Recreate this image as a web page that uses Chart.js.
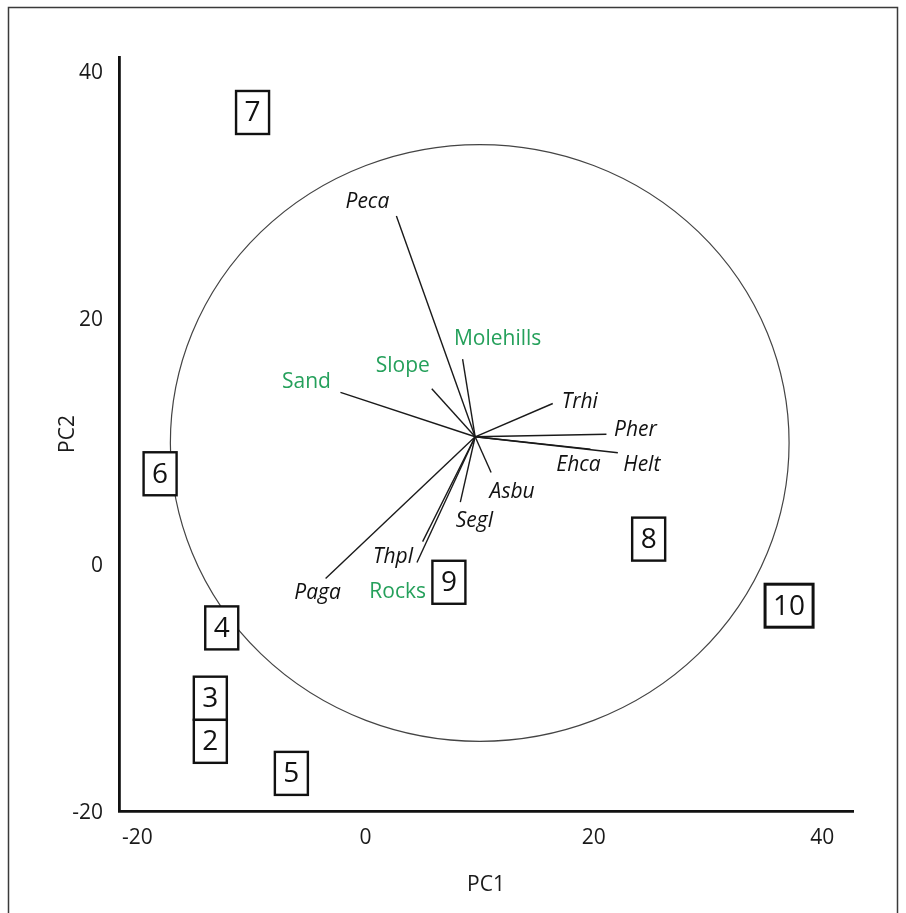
<!DOCTYPE html>
<html>
<head>
<meta charset="utf-8">
<script src="https://cdn.jsdelivr.net/npm/chart.js@4.4.1/dist/chart.umd.min.js"></script>
<style>
  html, body { margin: 0; padding: 0; background: #fff; }
  #wrap { width: 906px; height: 913px; position: relative; }
</style>
</head>
<body>
<div id="wrap"><canvas id="c" width="906" height="913"></canvas></div>
<script>
// ---- Site scores (quadrats) on PC1 / PC2 ----
const siteLabels = ['2', '3', '4', '5', '6', '7', '8', '9', '10'];
const sitePC1 = [-13.6, -13.6, -12.6, -6.5, -18.0, -9.9, 24.8, 7.3, 37.1];
const sitePC2 = [-14.2, -10.7, -5.0, -16.8, 7.5, 36.8, 2.2, -1.3, -3.2];

// ---- Common origin of all loading vectors ----
const vectorOriginPC1 = 9.6;
const vectorOriginPC2 = 10.5;

// ---- Species loading vectors (tips) ----
const speciesNames = ['Peca', 'Trhi', 'Pher', 'Ehca', 'Helt', 'Asbu', 'Segl', 'Thpl', 'Paga'];
const speciesPC1 = [2.7, 16.4, 21.1, 19.7, 22.1, 11.0, 8.3, 4.5, -3.5];
const speciesPC2 = [28.4, 13.2, 10.7, 9.5, 9.2, 7.6, 5.2, 0.3, -1.0];

// ---- Environmental loading vectors (tips) ----
const envNames = ['Molehills', 'Slope', 'Sand', 'Rocks'];
const envPC1 = [8.5, 5.8, -2.2, 5.0];
const envPC2 = [16.8, 14.4, 14.1, 2.0];

// ---- Correlation circle ----
const circleCentrePC1 = 10.0;
const circleCentrePC2 = 10.0;
const circleRadiusPC1 = 27.1;
const circleRadiusPC2 = 24.2;

// ---- Axis ticks ----
const xTicks = [-20, 0, 20, 40];
const yTicks = [-20, 0, 20, 40];

// ---- Styling / layout ----
const FONT = '"Open Sans", Lato, "Liberation Sans", sans-serif';
const GREEN = '#25a05b';
const INK = '#111';
// pixel offsets of each vector label from its tip
const labelOffsets = {
  Peca: [-29, -14], Trhi: [27, -1], Pher: [29, -4], Ehca: [-12, 16], Helt: [24, 12],
  Asbu: [21, 19], Segl: [14, 19], Thpl: [-24, -6], Paga: [-8, 14],
  Molehills: [35, -20], Slope: [-29, -23], Sand: [-34, -10], Rocks: [-25, 50]
};
const siteBoxWidthFor = { '10': 3 };

function vectorDataset(name, px, py, colour) {
  return {
    label: name,
    type: 'line',
    data: [{ x: vectorOriginPC1, y: vectorOriginPC2 }, { x: px, y: py }],
    borderColor: '#1a1a1a',
    borderWidth: 1.4,
    pointRadius: 0,
    fill: false,
    tension: 0,
    vectorLabel: name,
    vectorLabelColour: colour,
    vectorLabelItalic: colour === INK
  };
}

const datasets = [];
speciesNames.forEach((n, i) => datasets.push(vectorDataset(n, speciesPC1[i], speciesPC2[i], INK)));
envNames.forEach((n, i) => datasets.push(vectorDataset(n, envPC1[i], envPC2[i], GREEN)));
datasets.push({
  label: 'sites',
  type: 'scatter',
  data: siteLabels.map((s, i) => ({ x: sitePC1[i], y: sitePC2[i] })),
  pointRadius: 0,
  isSites: true
});

// correlation circle, drawn beneath the vectors
const circlePlugin = {
  id: 'circle',
  beforeDatasetsDraw(chart) {
    const { ctx, scales: { x, y } } = chart;
    const cx = x.getPixelForValue(circleCentrePC1);
    const cy = y.getPixelForValue(circleCentrePC2);
    const rx = Math.abs(x.getPixelForValue(circleCentrePC1 + circleRadiusPC1) - cx);
    const ry = Math.abs(y.getPixelForValue(circleCentrePC2 + circleRadiusPC2) - cy);
    ctx.save();
    ctx.beginPath();
    ctx.ellipse(cx, cy, rx, ry, 0, 0, Math.PI * 2);
    ctx.strokeStyle = '#444';
    ctx.lineWidth = 1.2;
    ctx.stroke();
    ctx.restore();
  }
};

// labels at vector tips and boxed site numbers
const annotatePlugin = {
  id: 'annotate',
  afterDatasetsDraw(chart) {
    const { ctx } = chart;
    ctx.save();
    chart.data.datasets.forEach((ds, di) => {
      const meta = chart.getDatasetMeta(di);
      if (ds.vectorLabel) {
        const tip = meta.data[1];
        const off = labelOffsets[ds.vectorLabel] || [0, 0];
        ctx.font = (ds.vectorLabelItalic ? 'italic 21px ' : '21px ') + FONT;
        ctx.fillStyle = ds.vectorLabelColour;
        ctx.textAlign = 'center';
        ctx.textBaseline = 'middle';
        ctx.fillText(ds.vectorLabel, tip.x + off[0], tip.y + off[1]);
      }
      if (ds.isSites) {
        meta.data.forEach((pt, i) => {
          const txt = siteLabels[i];
          ctx.font = '28px ' + FONT;
          const tw = ctx.measureText(txt).width;
          const w = Math.max(33, tw + 16);
          const h = 43;
          ctx.fillStyle = '#fff';
          ctx.fillRect(pt.x - w / 2, pt.y - h / 2, w, h);
          ctx.strokeStyle = INK;
          ctx.lineWidth = siteBoxWidthFor[txt] || 2.4;
          ctx.strokeRect(pt.x - w / 2, pt.y - h / 2, w, h);
          ctx.fillStyle = INK;
          ctx.textAlign = 'center';
          ctx.textBaseline = 'middle';
          ctx.fillText(txt, pt.x, pt.y + 1);
        });
      }
    });
    ctx.restore();
  }
};

// thin frame round the figure
const framePlugin = {
  id: 'frame',
  afterDraw(chart) {
    const { ctx } = chart;
    ctx.save();
    ctx.strokeStyle = '#3a3a3a';
    ctx.lineWidth = 1.5;
    ctx.beginPath();
    ctx.moveTo(8.5, 913);
    ctx.lineTo(8.5, 7.5);
    ctx.lineTo(897.5, 7.5);
    ctx.lineTo(897.5, 913);
    ctx.stroke();
    ctx.restore();
  }
};

new Chart(document.getElementById('c'), {
  type: 'scatter',
  data: { datasets },
  options: {
    responsive: false,
    animation: false,
    devicePixelRatio: 1,
    layout: { padding: { top: 57, right: 53, bottom: 0, left: 0 } },
    plugins: { legend: { display: false }, tooltip: { enabled: false } },
    scales: {
      x: {
        type: 'linear',
        min: -21.6,
        max: 42.7,
        afterBuildTicks: s => { s.ticks = xTicks.map(v => ({ value: v })); },
        afterFit: s => { s.height = 102; },
        grid: { display: false, drawTicks: false },
        border: { display: true, color: INK, width: 2.8 },
        ticks: { padding: 14, autoSkip: false, maxRotation: 0, color: '#1a1a1a', font: { family: FONT, size: 21 } },
        title: { display: true, text: 'PC1', color: '#1a1a1a', font: { family: FONT, size: 21 }, padding: { top: 0, bottom: 15 } }
      },
      y: {
        type: 'linear',
        min: -19.85,
        max: 41.3,
        afterBuildTicks: s => { s.ticks = yTicks.map(v => ({ value: v })); },
        afterFit: s => { s.width = 119; },
        grid: { display: false, drawTicks: false },
        border: { display: true, color: INK, width: 2.8 },
        ticks: { padding: 16, autoSkip: false, color: '#1a1a1a', font: { family: FONT, size: 21 } },
        title: { display: true, text: 'PC2', color: '#1a1a1a', font: { family: FONT, size: 21 }, padding: { top: 55, bottom: 0 } }
      }
    }
  },
  plugins: [circlePlugin, annotatePlugin, framePlugin]
});
</script>
</body>
</html>
